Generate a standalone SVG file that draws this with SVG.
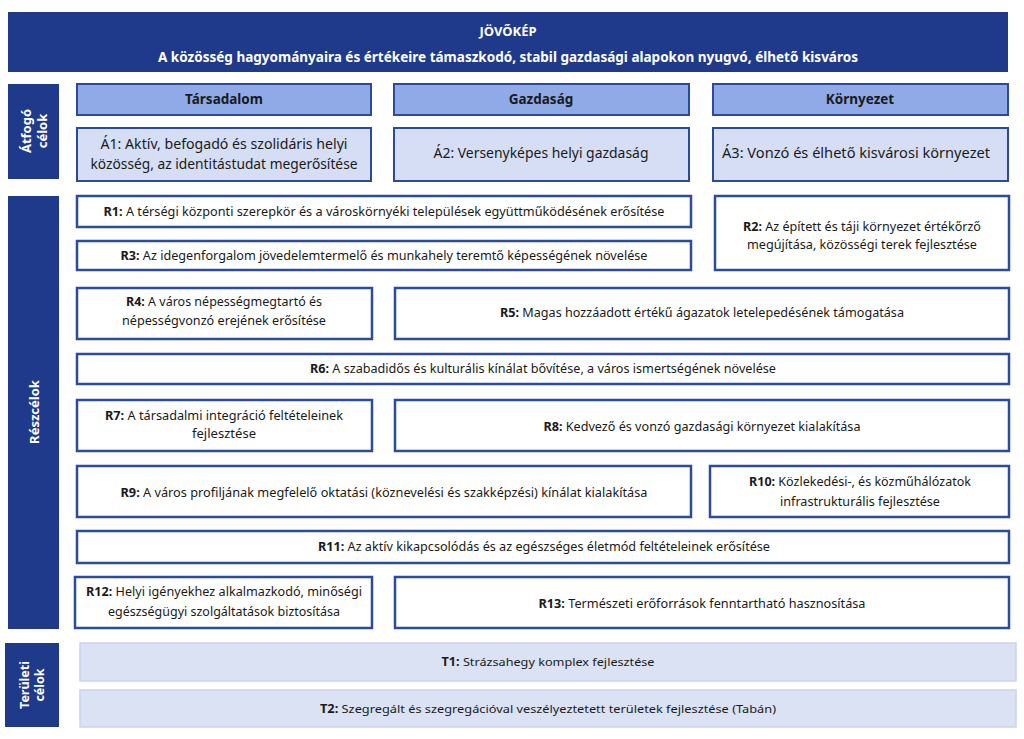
<svg xmlns="http://www.w3.org/2000/svg" width="1024" height="739" viewBox="0 0 1024 739">
<style>
text{font-family:"Noto Sans","Open Sans","DejaVu Sans",sans-serif;fill:#1a1a1a;text-anchor:middle}
.hdr{fill:#1F3A8A}
.w{fill:#ffffff;font-weight:bold}
.cat{fill:#8FAAE6;stroke:#2B4A9C;stroke-width:2}
.a{fill:#D5DEF5;stroke:#2B4A9C;stroke-width:2}
.r{fill:#ffffff;stroke:#2C4A9E;stroke-width:2.5}
.t{fill:#DBE2F4;stroke:#C9D3EE;stroke-width:1.5}
.ct{font-size:13.5px;font-weight:bold}
.at{font-size:14px}
.rt{font-size:12px}
.tt{font-size:11.5px}
.b{font-weight:bold}
</style>
<rect width="1024" height="739" fill="#ffffff"/>
<g id="jovokep">
<rect class="hdr" x="8" y="12" width="1000" height="60"/>
<text class="w" x="508" y="36" font-size="13">JÖVŐKÉP</text>
<text class="w" x="508" y="62" font-size="14" textLength="700" lengthAdjust="spacingAndGlyphs">A közösség hagyományaira és értékeire támaszkodó, stabil gazdasági alapokon nyugvó, élhető kisváros</text>
</g>
<g id="label-atfogo">
<rect class="hdr" x="8" y="84" width="51" height="95"/>
<text class="w" font-size="13" transform="translate(34,131) rotate(-90)"><tspan x="0" y="-3">Átfogó</tspan><tspan x="0" y="13">célok</tspan></text>
</g>
<g id="label-reszcelok">
<rect class="hdr" x="8" y="196" width="51" height="433"/>
<text class="w" font-size="13" transform="translate(34,412) rotate(-90)" x="0" y="5">Részcélok</text>
</g>
<g id="label-teruleti">
<rect class="hdr" x="5" y="643" width="54" height="84"/>
<text class="w" font-size="12.5" transform="translate(32,685) rotate(-90)"><tspan x="0" y="-3">Területi</tspan><tspan x="0" y="12">célok</tspan></text>
</g>
<g id="tarsadalom">
<rect class="cat" x="77" y="84" width="294" height="31"/>
<text class="ct" x="224" y="104">Társadalom</text>
</g>
<g id="gazdasag">
<rect class="cat" x="394" y="84" width="295" height="31"/>
<text class="ct" x="541" y="104">Gazdaság</text>
</g>
<g id="kornyezet">
<rect class="cat" x="713" y="84" width="295" height="31"/>
<text class="ct" x="860" y="104">Környezet</text>
</g>
<g id="A1">
<rect class="a" x="77" y="128" width="294" height="53"/>
<text class="at" x="224" y="149" textLength="247" lengthAdjust="spacingAndGlyphs">Á1: Aktív, befogadó és szolidáris helyi</text>
<text class="at" x="224" y="169" textLength="267" lengthAdjust="spacingAndGlyphs">közösség, az identitástudat megerősítése</text>
</g>
<g id="A2">
<rect class="a" x="394" y="128" width="295" height="53"/>
<text class="at" x="541" y="158" textLength="215" lengthAdjust="spacingAndGlyphs">Á2: Versenyképes helyi gazdaság</text>
</g>
<g id="A3">
<rect class="a" x="713" y="128" width="295" height="53"/>
<text class="at" x="856" y="158" textLength="268" lengthAdjust="spacingAndGlyphs">Á3: Vonzó és élhető kisvárosi környezet</text>
</g>
<g id="R1">
<rect class="r" x="77" y="196" width="614" height="31"/>
<text class="rt" x="384" y="216" textLength="561" lengthAdjust="spacingAndGlyphs"><tspan class="b">R1:</tspan> A térségi központi szerepkör és a városkörnyéki települések együttműködésének erősítése</text>
</g>
<g id="R2">
<rect class="r" x="715" y="196" width="294" height="74"/>
<text class="rt" x="862" y="231" textLength="238" lengthAdjust="spacingAndGlyphs"><tspan class="b">R2:</tspan> Az épített és táji környezet értékőrző</text>
<text class="rt" x="862" y="249" textLength="230" lengthAdjust="spacingAndGlyphs">megújítása, közösségi terek fejlesztése</text>
</g>
<g id="R3">
<rect class="r" x="77" y="241" width="614" height="29"/>
<text class="rt" x="384" y="260" textLength="527" lengthAdjust="spacingAndGlyphs"><tspan class="b">R3:</tspan> Az idegenforgalom jövedelemtermelő és munkahely teremtő képességének növelése</text>
</g>
<g id="R4">
<rect class="r" x="77" y="288" width="295" height="51"/>
<text class="rt" x="224" y="306" textLength="196" lengthAdjust="spacingAndGlyphs"><tspan class="b">R4:</tspan> A város népességmegtartó és</text>
<text class="rt" x="224" y="325" textLength="204" lengthAdjust="spacingAndGlyphs">népességvonzó erejének erősítése</text>
</g>
<g id="R5">
<rect class="r" x="395" y="288" width="614" height="51"/>
<text class="rt" x="702" y="317" textLength="404" lengthAdjust="spacingAndGlyphs"><tspan class="b">R5:</tspan> Magas hozzáadott értékű ágazatok letelepedésének támogatása</text>
</g>
<g id="R6">
<rect class="r" x="77" y="354" width="932" height="30"/>
<text class="rt" x="543" y="373" textLength="466" lengthAdjust="spacingAndGlyphs"><tspan class="b">R6:</tspan> A szabadidős és kulturális kínálat bővítése, a város ismertségének növelése</text>
</g>
<g id="R7">
<rect class="r" x="77" y="400" width="295" height="51"/>
<text class="rt" x="224" y="420" textLength="238" lengthAdjust="spacingAndGlyphs"><tspan class="b">R7:</tspan> A társadalmi integráció feltételeinek</text>
<text class="rt" x="224" y="438" textLength="64" lengthAdjust="spacingAndGlyphs">fejlesztése</text>
</g>
<g id="R8">
<rect class="r" x="395" y="400" width="614" height="51"/>
<text class="rt" x="702" y="431" textLength="317" lengthAdjust="spacingAndGlyphs"><tspan class="b">R8:</tspan> Kedvező és vonzó gazdasági környezet kialakítása</text>
</g>
<g id="R9">
<rect class="r" x="77" y="466" width="614" height="51"/>
<text class="rt" x="384" y="497" textLength="527" lengthAdjust="spacingAndGlyphs"><tspan class="b">R9:</tspan> A város profiljának megfelelő oktatási (köznevelési és szakképzési) kínálat kialakítása</text>
</g>
<g id="R10">
<rect class="r" x="710" y="466" width="299" height="51"/>
<text class="rt" x="860" y="486" textLength="222" lengthAdjust="spacingAndGlyphs"><tspan class="b">R10:</tspan> Közlekedési-, és közműhálózatok</text>
<text class="rt" x="860" y="506" textLength="160" lengthAdjust="spacingAndGlyphs">infrastrukturális fejlesztése</text>
</g>
<g id="R11">
<rect class="r" x="77" y="531" width="932" height="32"/>
<text class="rt" x="544" y="551" textLength="452" lengthAdjust="spacingAndGlyphs"><tspan class="b">R11:</tspan> Az aktív kikapcsolódás és az egészséges életmód feltételeinek erősítése</text>
</g>
<g id="R12">
<rect class="r" x="75" y="577" width="297" height="51"/>
<text class="rt" x="224" y="596" textLength="276" lengthAdjust="spacingAndGlyphs"><tspan class="b">R12:</tspan> Helyi igényekhez alkalmazkodó, minőségi</text>
<text class="rt" x="224" y="616" textLength="232" lengthAdjust="spacingAndGlyphs">egészségügyi szolgáltatások biztosítása</text>
</g>
<g id="R13">
<rect class="r" x="395" y="577" width="614" height="51"/>
<text class="rt" x="702" y="608" textLength="327" lengthAdjust="spacingAndGlyphs"><tspan class="b">R13:</tspan> Természeti erőforrások fenntartható hasznosítása</text>
</g>
<g id="T1">
<rect class="t" x="80" y="643" width="936" height="38"/>
<text class="tt" x="548" y="666" textLength="213" lengthAdjust="spacingAndGlyphs"><tspan class="b">T1:</tspan> Strázsahegy komplex fejlesztése</text>
</g>
<g id="T2">
<rect class="t" x="80" y="690" width="936" height="37"/>
<text class="tt" x="548" y="713" textLength="456" lengthAdjust="spacingAndGlyphs"><tspan class="b">T2:</tspan> Szegregált és szegregációval veszélyeztetett területek fejlesztése (Tabán)</text>
</g>
<g id="connectors"></g>
</svg>
